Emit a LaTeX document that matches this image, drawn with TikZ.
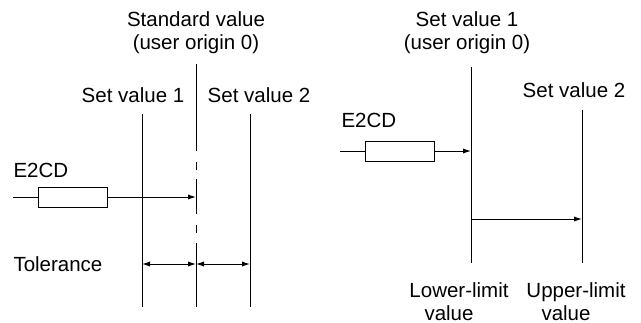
\documentclass[tikz,border=0pt]{standalone}
\usepackage{fontspec}
\setmainfont{Liberation Sans}
\usetikzlibrary{arrows.meta}
\begin{document}
\begin{tikzpicture}[x=0.5pt,y=-0.5pt,line width=0.5pt,
  lbl/.style={font=\fontsize{10.25}{11.5}\selectfont,inner sep=0pt,align=center},
  tipend/.style={-{Latex[length=4pt,width=2.6pt]}},
  tipboth/.style={{Latex[length=4pt,width=2.6pt]}-{Latex[length=4pt,width=2.6pt]}},
  sensor/.style={draw,minimum width=34.5pt,minimum height=10pt,inner sep=0pt}]
\useasboundingbox (0,0) rectangle (641,322);

% ---------------- left panel ----------------
\node[lbl,anchor=north] (std) at (196,11) {Standard value\\(user origin 0)};
\node[lbl,anchor=base] (sv1) at (133,102) {Set value 1};
\node[lbl,anchor=base] (sv2) at (259,102) {Set value 2};
\node[lbl,anchor=base west] (e2cdL) at (13,177) {E2CD};
\node[lbl,anchor=base west] (tol) at (13,271) {Tolerance};

\coordinate (a1t) at (142,114); \coordinate (a1b) at (142,307);
\coordinate (a2t) at (250,114); \coordinate (a2b) at (250,307);
\coordinate (a0t) at (196,64);  \coordinate (a0b) at (196,307);
\draw (a1t) -- (a1b);
\draw (a2t) -- (a2b);
% standard value line with interrupted segment
\draw (a0t) -- (196,151);
\draw (196,162) -- (196,170);
\draw (196,179) -- (196,214);
\draw (196,225) -- (196,233);
\draw (196,243) -- (a0b);

\node[sensor] (boxL) at (72.5,197) {};
\coordinate (leadL) at (13,197);
\coordinate (hitL) at (196,197);
\draw (leadL) -- (boxL.west);
\draw[tipend] (boxL.east) -- (hitL);

\coordinate (t1) at (142,264); \coordinate (t0) at (196,264); \coordinate (t2) at (250,264);
\draw[tipboth] (t1) -- (t0);
\draw[tipboth] (t0) -- (t2);

% ---------------- right panel ----------------
\node[lbl,anchor=north] (rsv1) at (467,11) {Set value 1\\(user origin 0)};
\node[lbl,anchor=base] (rsv2) at (574,97) {Set value 2};
\node[lbl,anchor=base west] (e2cdR) at (341,127) {E2CD};
\node[lbl,anchor=north] (low) at (459,282) {Lower-limit\\value\hspace*{10pt}};
\node[lbl,anchor=north] (up) at (576,282) {Upper-limit\\value\hspace*{10pt}};

\coordinate (b1t) at (471,67);  \coordinate (b1b) at (471,263);
\coordinate (b2t) at (582,110); \coordinate (b2b) at (582,263);
\draw (b1t) -- (b1b);
\draw (b2t) -- (b2b);

\node[sensor] (boxR) at (400,151) {};
\coordinate (leadR) at (340,151);
\coordinate (hitR) at (471,151);
\draw (leadR) -- (boxR.west);
\draw[tipend] (boxR.east) -- (hitR);

\coordinate (r1) at (471,219); \coordinate (r2) at (582,219);
\draw[tipend] (r1) -- (r2);
\end{tikzpicture}
\end{document}
